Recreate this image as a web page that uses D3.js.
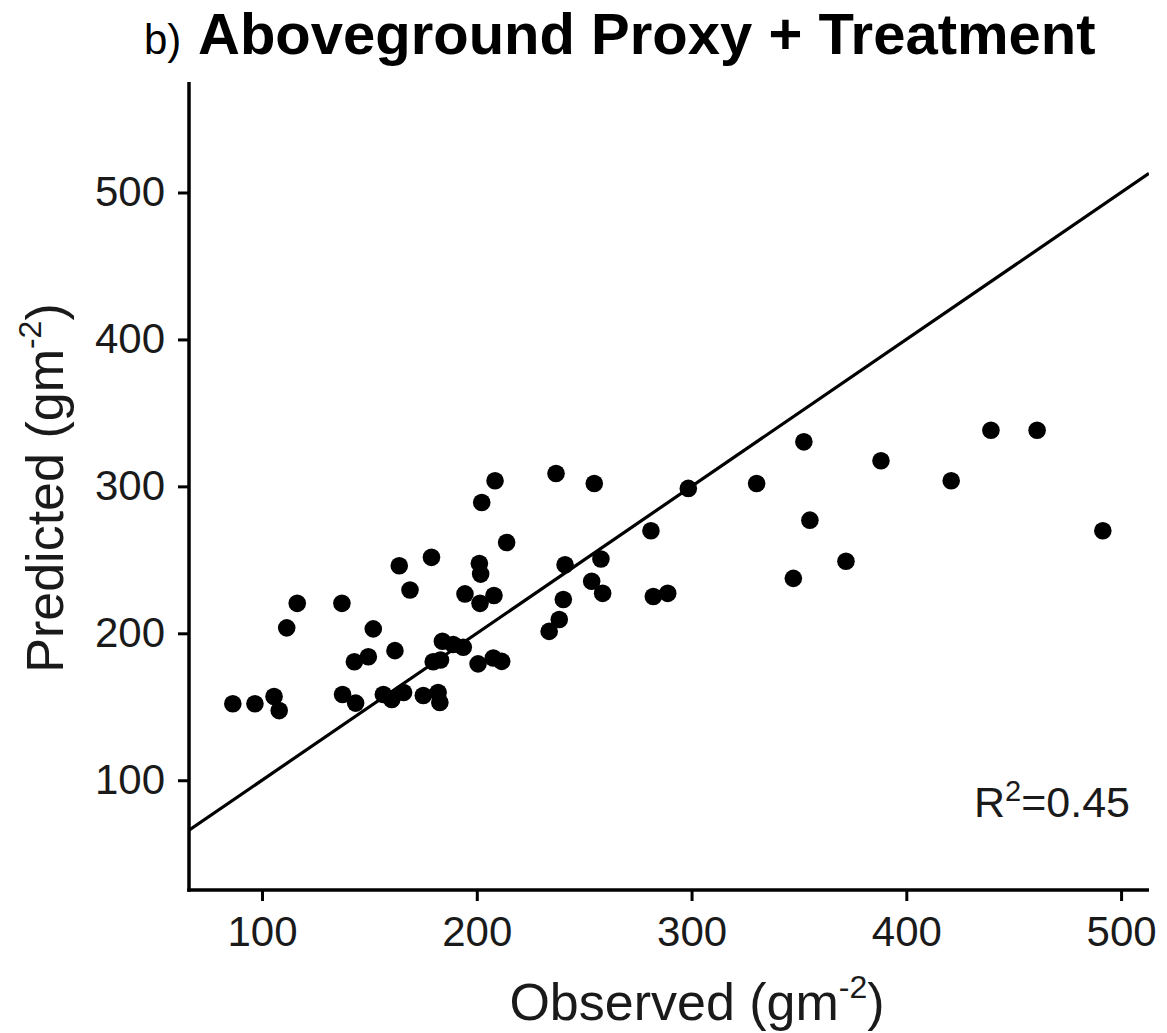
<!DOCTYPE html>
<html>
<head>
<meta charset="utf-8">
<script src="https://cdn.jsdelivr.net/npm/d3@7"></script>
<style>
  html, body { margin: 0; padding: 0; background: #fff; }
  svg { display: block; }
  text { font-family: "Liberation Sans", Arial, Helvetica, sans-serif; }
</style>
</head>
<body>
<svg id="chart" width="1167" height="1033"></svg>
<script>
// ---- data ----
const observed = [86.4, 96.7, 105.6, 108, 111.5, 116.4, 137.2, 137.5, 143.6, 143,
  149.5, 151.8, 156.5, 160.4, 161.9, 165.9, 163.9, 168.9, 178.9, 175.1,
  182, 182.8, 179.7, 183.1, 184, 189, 193.7, 200.6, 201.2, 201.8,
  202.3, 208.5, 194.5, 201.5, 208, 213.9, 207.7, 211.6, 236.9, 254.7,
  298.5, 281.1, 241.1, 257.8, 240.3, 238.4, 233.7, 253.5, 258.6, 282.2,
  288.9, 330.3, 352.3, 355.1, 347.4, 388.2, 371.9, 420.9, 439.4, 460.9,
  491.5];
const predicted = [152.1, 152.1, 157, 147.4, 203.7, 220.4, 220.4, 158.4, 152.5, 180.6,
  184, 203, 158.4, 155, 188.2, 159.7, 246, 229.5, 251.7, 157.7,
  159.7, 152.9, 180.6, 181.8, 194.6, 192.4, 190.5, 179.2, 247.5, 240.3,
  289, 303.8, 226.8, 220.4, 225.7, 261.8, 183.2, 180.9, 308.8, 302,
  298.6, 269.8, 246.7, 250.6, 223, 209.4, 201.3, 235.4, 227.2, 225,
  227.2, 302, 330.3, 277, 237.4, 317.4, 249, 303.8, 338.2, 338.2,
  269.8];
const xTicks = [100, 200, 300, 400, 500];
const yTicks = [100, 200, 300, 400, 500];
const xDomain = [66, 513];
const yDomain = [25.3, 575.2];
const oneToOne = [66, 513]; // y = x reference line
const r2Label = "0.45";

// ---- layout ----
const svg = d3.select("#chart");
const pLeft = 189, pRight = 1149, pTop = 82, pBottom = 890;
const x = d3.scaleLinear().domain(xDomain).range([pLeft, pRight]);
const y = d3.scaleLinear().domain(yDomain).range([pBottom, pTop]);

svg.append("defs").append("clipPath").attr("id", "panel")
  .append("rect").attr("x", pLeft).attr("y", pTop)
  .attr("width", pRight - pLeft).attr("height", pBottom - pTop);

// 1:1 line
svg.append("line")
  .attr("clip-path", "url(#panel)")
  .attr("x1", x(oneToOne[0])).attr("y1", y(oneToOne[0]))
  .attr("x2", x(oneToOne[1])).attr("y2", y(oneToOne[1]))
  .attr("stroke", "#000").attr("stroke-width", 3.2);

// points
const pts = observed.map((d, i) => ({ o: d, p: predicted[i] }));
svg.append("g").selectAll("circle").data(pts).join("circle")
  .attr("cx", d => x(d.o)).attr("cy", d => y(d.p))
  .attr("r", 8.8).attr("fill", "#000");

// axes
const xAxis = svg.append("g").attr("transform", `translate(0,${pBottom})`)
  .call(d3.axisBottom(x).tickValues(xTicks).tickSize(11).tickSizeOuter(0).tickPadding(15));
const yAxis = svg.append("g").attr("transform", `translate(${pLeft},0)`)
  .call(d3.axisLeft(y).tickValues(yTicks).tickSize(11).tickSizeOuter(0).tickPadding(13));
[xAxis, yAxis].forEach(a => {
  a.select(".domain").attr("stroke", "#000").attr("stroke-width", 3.5);
  a.selectAll(".tick line").attr("stroke", "#000").attr("stroke-width", 3);
  a.selectAll(".tick text").attr("fill", "#1a1a1a")
    .style("font-size", "42px").style("font-family", '"Liberation Sans", Arial, sans-serif');
});
xAxis.select(".domain").attr("d", `M${pLeft - 1.75},0H${pRight}`);
yAxis.select(".domain").attr("d", `M0,${pTop}V${pBottom + 1.75}`);

// axis titles
const xt = svg.append("text").attr("x", 697).attr("y", 1020)
  .attr("text-anchor", "middle").attr("fill", "#1a1a1a").style("font-size", "52px");
xt.append("tspan").text("Observed (gm");
xt.append("tspan").attr("dy", -22).style("font-size", "32px").text("-2");
xt.append("tspan").attr("dy", 22).text(")");

const yt = svg.append("text")
  .attr("transform", "translate(63,488) rotate(-90)")
  .attr("text-anchor", "middle").attr("fill", "#1a1a1a").style("font-size", "52px");
yt.append("tspan").text("Predicted (gm");
yt.append("tspan").attr("dy", -22).style("font-size", "32px").text("-2");
yt.append("tspan").attr("dy", 22).text(")");

// title
svg.append("text").attr("x", 144).attr("y", 54).attr("fill", "#000")
  .style("font-size", "42px")
  .text("b)");
svg.append("text").attr("x", 198).attr("y", 54).attr("fill", "#000")
  .style("font-size", "58px").style("font-weight", "bold")
  .text("Aboveground Proxy + Treatment");

// R² annotation
const rt = svg.append("text").attr("x", 1130).attr("y", 817)
  .attr("text-anchor", "end").attr("fill", "#1a1a1a").style("font-size", "43px");
rt.append("tspan").text("R");
rt.append("tspan").attr("dy", -16).style("font-size", "29px").text("2");
rt.append("tspan").attr("dy", 16).text("=" + r2Label);
</script>
</body>
</html>
